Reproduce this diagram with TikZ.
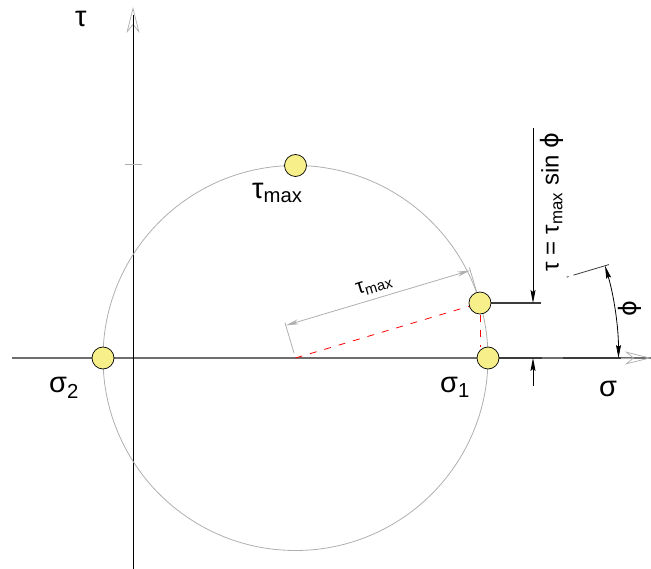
\documentclass[tikz,border=0pt]{standalone}
\usepackage{fontspec}
\setmainfont{Liberation Sans}
\newfontfamily\phifont{DejaVu Sans}
\usetikzlibrary{arrows.meta, calc}
\definecolor{cYellow}{HTML}{F7F08A}
\definecolor{cAxis}{HTML}{6E6E6E}
\definecolor{cLight}{HTML}{AFAFAF}
\definecolor{cDark}{HTML}{3C3C3C}
\newcommand{\tmax}{τ\textsubscript{max}}
\newcommand{\phiang}{16.6}

\begin{document}
\begin{tikzpicture}[x=1pt, y=-1pt,
    dot/.style={circle, draw=black, fill=cYellow, minimum size=22pt,
                inner sep=0pt, line width=0.7pt},
    axisline/.style={draw=cAxis, line width=1.1pt},
    axarr/.style={-{Stealth[open, length=26pt, width=13pt, inset=8pt]},
                  draw=cLight, line width=0.7pt},
    mohr/.style={draw=cLight, line width=0.8pt},
    reddash/.style={draw=red, line width=0.8pt, dash pattern=on 7pt off 8pt},
    dimgray/.style={draw=cLight, line width=0.8pt},
    dimarr/.style={-{Stealth[length=13pt, width=5pt, inset=2pt]}, black,
                   line width=0.8pt},
    ext/.style={draw=cDark, line width=1.1pt},
    lbl/.style={font=\fontsize{29}{33}\selectfont, inner sep=0pt},
    eqlbl/.style={font=\fontsize{24}{28}\selectfont, inner sep=0pt},
    smalllbl/.style={font=\fontsize{21}{24}\selectfont, inner sep=0pt},
  ]
  \useasboundingbox (0,0) rectangle (651,569);

  % Mohr circle positions
  \coordinate (O)   at (295.5,358);
  \coordinate (cS1) at (488,358);
  \coordinate (cS2) at (103,358);
  \coordinate (cTm) at (295.5,165.5);
  \coordinate (cP)  at ($(O)+(-\phiang:192.5)$);
  \coordinate (cPd) at (cP |- cS1);

  % axes
  \coordinate (sigL) at (12,358);
  \coordinate (sigR) at (651,358);
  \coordinate (tauB) at (133,569);
  \coordinate (tauT) at (133,7);
  \draw[axisline] (sigL) -- (sigR);
  \draw[axarr] ($(sigR)+(-30,0)$) -- (sigR);
  \draw[axarr] ($(tauT)+(0,30)$) -- (tauT);
  \draw[black, line width=1pt] (tauB) -- ($(tauT)+(0,8)$);
  \draw[cLight, line width=0.8pt] (125,164) -- (142,164);

  \draw[mohr] (O) circle[radius=192.5];

  % radius to the point
  \draw[reddash] (O) -- (cP);
  \draw[reddash] ($(cP)+(0,12)$) -- ($(cPd)+(0,-11)$);

  % tau_max dimension
  \coordinate (d1) at ($(O)+(-106.6:34)$);
  \coordinate (d2) at ($(cP)+(-106.6:34)$);
  \draw[dimgray] ($(O)+(-106.6:5)$) -- ($(O)+(-106.6:37)$);
  \draw[dimgray] ($(cP)+(-106.6:5)$) -- ($(cP)+(-106.6:37)$);
  \draw[dimgray, {Stealth[length=13pt, width=5pt]}-{Stealth[length=13pt, width=5pt]}]
    (d1) -- (d2);
  \node[smalllbl, rotate=\phiang] (dimlbl) at ($($(d1)!0.5!(d2)$)+(-106.6:13)$) {\tmax};

  % tau = tau_max sin phi
  \coordinate (dimX) at (533,0);
  \coordinate (aTop) at (533,128);
  \coordinate (aBot) at (533,386);
  \draw[ext] (cP) -- ($(cP -| dimX)+(8,0)$);
  \draw[ext] (cS1) -- ($(cS1 -| dimX)+(9,0)$);
  \draw[dimarr] (aTop) -- (cP -| dimX);
  \draw[dimarr] (aBot) -- (cS1 -| dimX);
  \node[eqlbl, rotate=90] (eqlbl) at (552,202)
    {τ = \tmax{} sin {\phifont ϕ}};

  % angle phi
  \draw[ext, line width=0.8pt] ($(O)+(-\phiang:283)$) -- ($(O)+(-\phiang:285)$);
  \draw[ext, line width=0.8pt] ($(O)+(-\phiang:290)$) -- ($(O)+(-\phiang:327)$);
  \draw[ext] (563,358) -- (621,358);
  \draw[dimarr, {Stealth[length=13pt, width=5pt, inset=2pt]}-{Stealth[length=13pt, width=5pt, inset=2pt]}]
    ($(O)+(0:323)$) arc[start angle=0, end angle=-\phiang, radius=323];
  \node[eqlbl, rotate=90] (philbl) at (630,309) {\phifont ϕ};

  % points
  \node[dot] (s1) at (cS1) {};
  \node[dot] (s2) at (cS2) {};
  \node[dot] (tm) at (cTm) {};
  \node[dot] (pt) at (cP)  {};

  % labels
  \node[lbl, anchor=base west] (tauLbl) at (75,27)  {τ};
  \node[lbl, anchor=base west] (sigLbl) at (599,397) {σ};
  \node[lbl, anchor=base west] (s2Lbl)  at (49,393)  {σ\textsubscript{2}};
  \node[lbl, anchor=base west] (s1Lbl)  at (440,392) {σ\textsubscript{1}};
  \node[lbl, anchor=base west] (tmLbl)  at (252,199) {\tmax};
\end{tikzpicture}
\end{document}
